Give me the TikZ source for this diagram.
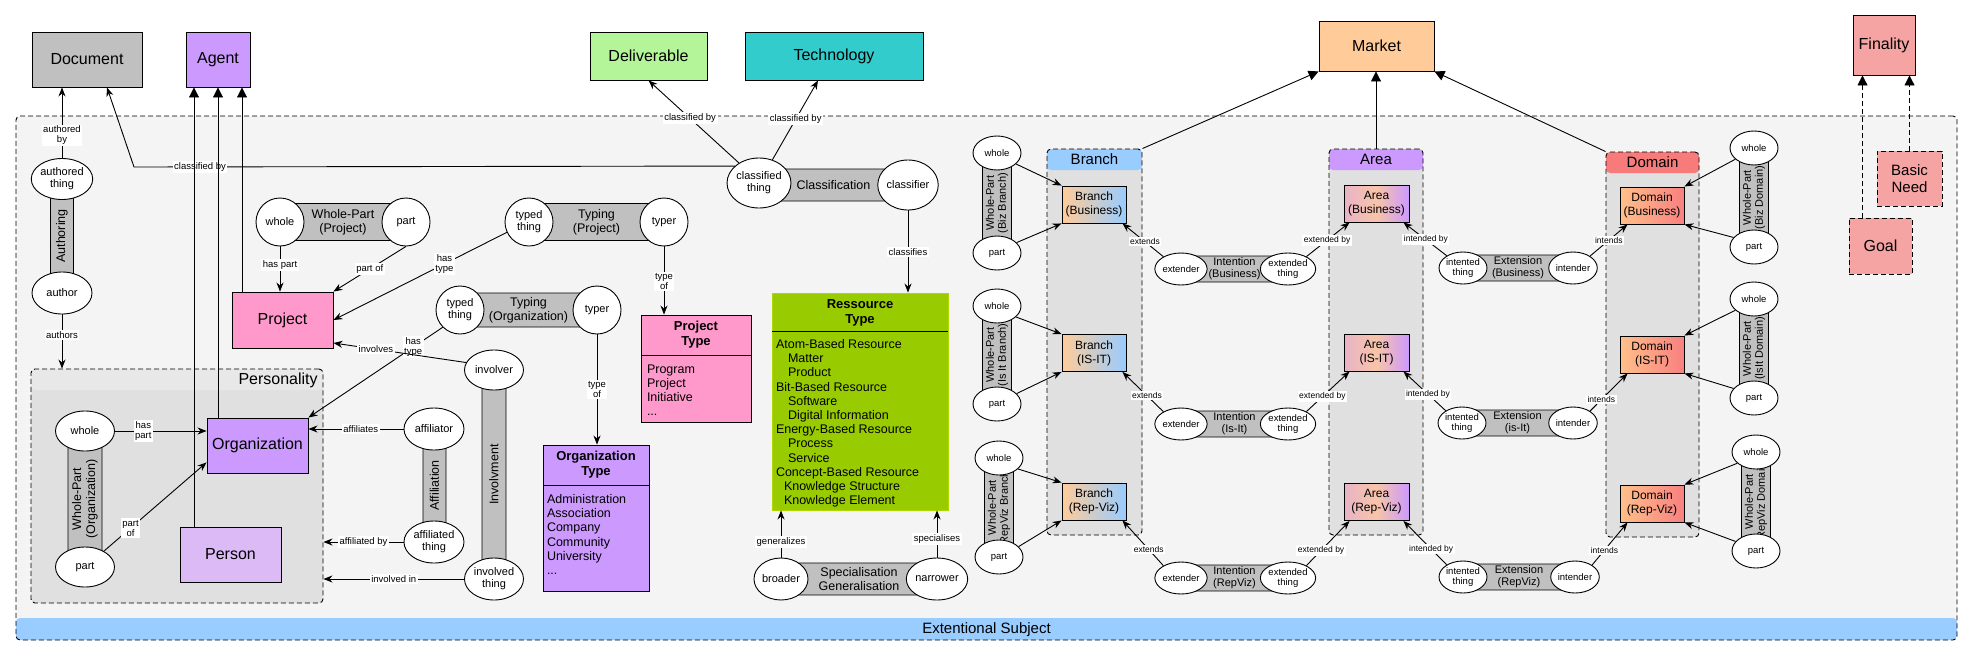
\documentclass[tikz,border=0pt]{standalone}
\usepackage{fontspec}
\setmainfont{Liberation Sans}
\usepackage{tikz}
\usetikzlibrary{arrows.meta,shapes.geometric}

\definecolor{docgray}{HTML}{C0C0C0}
\definecolor{agentpurple}{HTML}{CC99FF}
\definecolor{delivgreen}{HTML}{B5F59A}
\definecolor{techcyan}{HTML}{33CCCC}
\definecolor{marketorange}{HTML}{FFCC99}
\definecolor{finalpink}{HTML}{F6A3A3}
\definecolor{projpink}{HTML}{FF99CC}
\definecolor{personlilac}{HTML}{DCBAF6}
\definecolor{rtypegreen}{HTML}{99CC00}
\definecolor{rtypeedge}{HTML}{B0D800}
\definecolor{bargray}{HTML}{C0C0C0}
\definecolor{framegray}{HTML}{F4F4F4}
\definecolor{boxgray}{HTML}{E0E0E0}
\definecolor{hdrgray}{HTML}{E8E8E8}
\definecolor{bandblue}{HTML}{99CCFF}
\definecolor{domainred}{HTML}{F77B7B}
\definecolor{areapink}{HTML}{E8B4C8}
\definecolor{areapeach}{HTML}{F8C4A8}
\definecolor{domorange}{HTML}{FFC08A}
\definecolor{domsalmon}{HTML}{F88080}

\newcommand{\linew}{0.9pt}
\newcommand{\conceptsize}{\fontsize{16}{18}\selectfont}
\newcommand{\needsize}{\fontsize{15}{17}\selectfont}
\newcommand{\subsize}{\fontsize{12}{14}\selectfont}
\newcommand{\headsize}{\fontsize{13}{15}\selectfont\bfseries}
\newcommand{\listsize}{\fontsize{12.5}{14.2}\selectfont}
\newcommand{\rolesize}{\fontsize{11}{12}\selectfont}
\newcommand{\srolesize}{\fontsize{9.5}{10.5}\selectfont}
\newcommand{\barsize}{\fontsize{12.5}{14}\selectfont}
\newcommand{\sbarsize}{\fontsize{11}{12}\selectfont}
\newcommand{\lblsize}{\fontsize{9.5}{10}\selectfont}
\newcommand{\slblsize}{\fontsize{8.5}{9}\selectfont}

\begin{document}
\begin{tikzpicture}[x=1pt,y=-1pt,line width=\linew]
\tikzset{
  concept/.style={draw, rectangle, inner sep=0pt, align=center, font=\conceptsize},
  subconcept/.style={concept, font=\subsize, minimum width=64pt, minimum height=37pt},
  role/.style={draw, ellipse, fill=white, inner sep=0pt, align=center, font=\rolesize},
  srole/.style={role, font=\srolesize, minimum width=48pt, minimum height=32pt},
  relbar/.style={draw, fill=bargray, rounded corners=3pt, inner sep=0pt, align=center, font=\barsize},
  srelbar/.style={relbar, font=\sbarsize},
  lbl/.style={fill=white, inner sep=1.5pt, align=center, font=\lblsize},
  slbl/.style={lbl, font=\slblsize},
  list/.style={inner sep=0pt, align=left, font=\listsize},
  dashbox/.style={dash pattern=on 5pt off 3pt},
  container/.style={draw, dashbox, rounded corners=4pt, inner sep=0pt},
  header/.style={path picture={\fill[#1] (path picture bounding box.north west) rectangle ([yshift=-21pt]path picture bounding box.north east);}},
  band/.style={path picture={\fill[#1] ([yshift=22pt]path picture bounding box.south west) rectangle (path picture bounding box.south east);}},
  rel/.style={-{Stealth[length=9pt,width=7pt]}},
  gen/.style={-{Triangle[length=10pt,width=10pt]}}
}
\useasboundingbox (0,0) rectangle (1973,656);
%\draw[help lines] (0,0) grid (1973,656);

% frame and containers
\node[container, fill=framegray, band=bandblue, minimum width=1941pt, minimum height=524pt] (extsubj) at (986.5,378) {};
\node[font=\needsize] (extsubjttl) at ([yshift=11pt]extsubj.south) {Extentional Subject};
\node[container, fill=boxgray, header=hdrgray, minimum width=292pt, minimum height=234pt] (pers) at (177,486) {};
\node[font=\conceptsize, anchor=east] (persttl) at ([xshift=-2pt,yshift=-12pt]pers.north east) {Personality};
\node[container, fill=boxgray, header=bandblue, minimum width=95pt, minimum height=386pt] (branch) at (1094.5,342) {};
\node[font=\needsize] (branchttl) at ([yshift=-11pt]branch.north) {Branch};
\node[container, fill=boxgray, header=agentpurple, minimum width=94pt, minimum height=386pt] (area) at (1376,342) {};
\node[font=\needsize] (areattl) at ([yshift=-11pt]area.north) {Area};
\node[container, fill=boxgray, header=domainred, minimum width=93pt, minimum height=385pt] (domain) at (1652.5,344.5) {};
\node[font=\needsize] (domainttl) at ([yshift=-11pt]domain.north) {Domain};

% top concepts
\node[concept, fill=docgray, minimum width=110pt, minimum height=55pt] (doc) at (87,59.5) {Document};
\node[concept, fill=agentpurple, minimum width=64pt, minimum height=55pt] (agent) at (218,59.5) {Agent};
\node[concept, fill=delivgreen, minimum width=117pt, minimum height=48pt] (deliv) at (648.5,56) {Deliverable};
\node[concept, fill=techcyan, minimum width=178pt, minimum height=48pt] (tech) at (834,56) {Technology};
\node[concept, fill=marketorange, minimum width=115pt, minimum height=50pt] (market) at (1376.5,46) {Market};
\node[concept, fill=finalpink, minimum width=62pt, minimum height=60pt] (final) at (1884,45) {Finality};
\node[concept, fill=finalpink, dashbox, font=\needsize, minimum width=65pt, minimum height=55pt] (bneed) at (1909.5,178.5) {Basic\\Need};
\node[concept, fill=finalpink, dashbox, minimum width=63pt, minimum height=56pt] (goal) at (1880.5,246) {Goal};

% left concepts
\node[concept, fill=projpink, minimum width=101pt, minimum height=56pt] (project) at (282.5,320) {Project};
\node[concept, fill=agentpurple, minimum width=101pt, minimum height=55pt] (org) at (257.5,445.5) {Organization};
\node[concept, fill=personlilac, minimum width=101pt, minimum height=55pt] (person) at (230.5,554.5) {Person};

\node[concept, fill=projpink, minimum width=110pt, minimum height=107pt] (ptype) at (696,368.5) {};
\node[font=\headsize, align=center] (ptypettl) at ([yshift=-20.5pt]ptype.north) {Project\\Type};
\draw ([yshift=-41pt]ptype.north west) -- ([yshift=-41pt]ptype.north east);
\node[list, anchor=north west] (ptypelist) at ([xshift=6pt,yshift=-49.5pt]ptype.north west) {Program\\Project\\Initiative\\...};

\node[concept, fill=agentpurple, minimum width=106pt, minimum height=146pt] (otype) at (596,518) {};
\node[font=\headsize, align=center] (otypettl) at ([yshift=-20.5pt]otype.north) {Organization\\Type};
\draw ([yshift=-41pt]otype.north west) -- ([yshift=-41pt]otype.north east);
\node[list, anchor=north west] (otypelist) at ([xshift=4pt,yshift=-49.5pt]otype.north west) {Administration\\Association\\Company\\Community\\University\\...};

\node[concept, fill=rtypegreen, draw=rtypeedge, minimum width=176pt, minimum height=217pt] (rtype) at (860,401.5) {};
\node[font=\headsize, align=center] (rtypettl) at ([yshift=-20.5pt]rtype.north) {Ressource\\Type};
\draw ([yshift=-39pt]rtype.north west) -- ([yshift=-39pt]rtype.north east);
\node[list, anchor=north west] (rtypelist) at ([xshift=4pt,yshift=-46.5pt]rtype.north west) {Atom-Based Resource\\\hspace*{12pt}Matter\\\hspace*{12pt}Product\\Bit-Based Resource\\\hspace*{12pt}Software\\\hspace*{12pt}Digital Information\\Energy-Based Resource\\\hspace*{12pt}Process\\\hspace*{12pt}Service\\Concept-Based Resource\\\hspace*{8pt}Knowledge Structure\\\hspace*{8pt}Knowledge Element};

% relation bars
\node[relbar, rotate=90, minimum width=114pt, minimum height=23pt] (authbar) at (62,236) {Authoring};
\node[relbar, rotate=90, minimum width=136pt, minimum height=34pt] (wpobar) at (85,499) {Whole-Part\\(Organization)};
\node[relbar, minimum width=126pt, minimum height=37pt] (wppbar) at (343,222) {Whole-Part\\(Project)};
\node[relbar, minimum width=135pt, minimum height=37pt] (typpbar) at (596.5,222) {Typing\\(Project)};
\node[relbar, minimum width=137pt, minimum height=34pt] (typobar) at (528.5,310) {Typing\\(Organization)};
\node[relbar, rotate=90, minimum width=209pt, minimum height=24pt] (invbar) at (494,474.5) {Involvment};
\node[relbar, rotate=90, minimum width=113pt, minimum height=23pt] (affbar) at (434.5,485.5) {Affiliation};
\node[relbar, minimum width=149pt, minimum height=32pt] (clsbar) at (833.5,185) {Classification};
\node[relbar, minimum width=156pt, minimum height=32pt] (specbar) at (859,579) {Specialisation\\Generalisation};

% roles
\node[role, minimum width=60pt, minimum height=41pt] (auththing) at (62,179) {authored\\thing};
\node[role, minimum width=60pt, minimum height=42pt] (author) at (62,293) {author};
\node[role, minimum width=59pt, minimum height=40pt] (wholeo) at (85,431) {whole};
\node[role, minimum width=59pt, minimum height=40pt] (parto) at (85,567) {part};
\node[role, minimum width=48pt, minimum height=48pt] (wholep) at (280,222) {whole};
\node[role, minimum width=48pt, minimum height=48pt] (partp) at (406,222) {part};
\node[role, minimum width=48pt, minimum height=48pt] (tthingp) at (529,222) {typed\\thing};
\node[role, minimum width=48pt, minimum height=48pt] (typerp) at (664,222) {typer};
\node[role, minimum width=48pt, minimum height=48pt] (tthingo) at (460,310) {typed\\thing};
\node[role, minimum width=48pt, minimum height=48pt] (typero) at (597,310) {typer};
\node[role, minimum width=59pt, minimum height=40pt] (involver) at (494,370) {involver};
\node[role, minimum width=59pt, minimum height=42pt] (invthing) at (494,579) {involved\\thing};
\node[role, minimum width=60pt, minimum height=42pt] (affl) at (434,429) {affiliator};
\node[role, minimum width=60pt, minimum height=42pt] (afft) at (434,542) {affiliated\\thing};
\node[role, minimum width=60pt, minimum height=50pt] (clsthing) at (759,183) {classified\\thing};
\node[role, minimum width=60pt, minimum height=50pt] (clsfr) at (908,185) {classifier};
\node[role, minimum width=54pt, minimum height=42pt] (broader) at (781,579) {broader};
\node[role, minimum width=54pt, minimum height=42pt] (narrower) at (937,579) {narrower};

% branch / area / domain
\node[subconcept, left color=marketorange, right color=bandblue] (bb1) at (1094,204.5) {Branch\\(Business)};
\node[subconcept, left color=marketorange, right color=bandblue] (bb2) at (1094,353) {Branch\\(IS-IT)};
\node[subconcept, left color=marketorange, right color=bandblue] (bb3) at (1094,501.5) {Branch\\(Rep-Viz)};
\node[subconcept, minimum width=65pt, left color=areapink, right color=agentpurple, middle color=areapeach] (ab1) at (1376.5,203.5) {Area\\(Business)};
\node[subconcept, minimum width=65pt, left color=areapink, right color=agentpurple, middle color=areapeach] (ab2) at (1376.5,352.5) {Area\\(IS-IT)};
\node[subconcept, minimum width=65pt, left color=areapink, right color=agentpurple, middle color=areapeach] (ab3) at (1376.5,502) {Area\\(Rep-Viz)};
\node[subconcept, left color=domorange, right color=domsalmon] (db1) at (1652,205.5) {Domain\\(Business)};
\node[subconcept, left color=domorange, right color=domsalmon] (db2) at (1652,354.5) {Domain\\(IS-IT)};
\node[subconcept, left color=domorange, right color=domsalmon] (db3) at (1652,503.5) {Domain\\(Rep-Viz)};

\node[srelbar, rotate=90, minimum width=100pt, minimum height=29pt] (wpb1) at (997,203) {Whole-Part\\(Biz Branch)};
\node[srelbar, rotate=90, minimum width=98pt, minimum height=29pt] (wpb2) at (997,355) {Whole-Part\\(Is It Branch)};
\node[srelbar, rotate=90, minimum width=99pt, minimum height=29pt] (wpb3) at (999,507.5) {Whole-Part\\(RepViz Branch)};
\node[srole, minimum height=34pt] (wb1) at (997,153) {whole};
\node[srole, minimum height=34pt] (pb1) at (997,253) {part};
\node[srole, minimum height=34pt] (wb2) at (997,306) {whole};
\node[srole, minimum height=34pt] (pb2) at (997,404) {part};
\node[srole, minimum height=34pt] (wb3) at (999,458) {whole};
\node[srole, minimum height=34pt] (pb3) at (999,557) {part};

\node[srelbar, minimum width=107pt, minimum height=26pt] (intn1) at (1234.5,269) {Intention\\(Business)};
\node[srelbar, minimum width=107pt, minimum height=26pt] (intn2) at (1234.5,424) {Intention\\(Is-It)};
\node[srelbar, minimum width=107pt, minimum height=26pt] (intn3) at (1234.5,578) {Intention\\(RepViz)};
\node[srole] (extr1) at (1181,269) {extender};
\node[srole] (extd1) at (1288,269) {extended\\thing};
\node[srole] (extr2) at (1181,424) {extender};
\node[srole] (extd2) at (1288,424) {extended\\thing};
\node[srole] (extr3) at (1181,578) {extender};
\node[srole] (extd3) at (1288,578) {extended\\thing};

\node[srelbar, minimum width=110pt, minimum height=26pt] (extn1) at (1518,268) {Extension\\(Business)};
\node[srelbar, minimum width=111pt, minimum height=26pt] (extn2) at (1517.5,423) {Extension\\(is-It)};
\node[srelbar, minimum width=112pt, minimum height=26pt] (extn3) at (1519,577) {Extension\\(RepViz)};
\node[srole] (intd1) at (1463,268) {intented\\thing};
\node[srole] (intr1) at (1573,268) {intender};
\node[srole] (intd2) at (1462,423) {intented\\thing};
\node[srole] (intr2) at (1573,423) {intender};
\node[srole] (intd3) at (1463,577) {intented\\thing};
\node[srole] (intr3) at (1575,577) {intender};

\node[srelbar, rotate=90, minimum width=99pt, minimum height=29pt] (wpd1) at (1754,197.5) {Whole-Part\\(Biz Domain)};
\node[srelbar, rotate=90, minimum width=99pt, minimum height=29pt] (wpd2) at (1754,348.5) {Whole-Part\\(IsIt Domain)};
\node[srelbar, rotate=90, minimum width=99pt, minimum height=29pt] (wpd3) at (1756,501.5) {Whole-Part\\(RepViz Domain)};
\node[srole, minimum height=34pt] (wd1) at (1754,148) {whole};
\node[srole, minimum height=34pt] (pd1) at (1754,247) {part};
\node[srole, minimum height=34pt] (wd2) at (1754,299) {whole};
\node[srole, minimum height=34pt] (pd2) at (1754,398) {part};
\node[srole, minimum height=34pt] (wd3) at (1756,452) {whole};
\node[srole, minimum height=34pt] (pd3) at (1756,551) {part};

% connectors
\coordinate (docbend) at (134,167);
\coordinate (agentl) at ([xshift=-24pt]agent.south);
\coordinate (agentr) at ([xshift=24pt]agent.south);

\draw[rel] (auththing.north) -- node[lbl,pos=0.32]{authored\\by} (auththing.north |- doc.south);
\draw[rel] (author.south) -- node[lbl,pos=0.38]{authors} (author.south |- pers.north);
\draw[rel] (clsthing.145) -- node[lbl,pos=0.89]{classified by} (docbend) -- ([xshift=20pt]doc.south);

\draw[gen] (person.north -| agentl) -- (agentl);
\draw[gen] (org.north -| agent.south) -- (agent.south);
\draw[gen] (project.north -| agentr) -- (agentr);

\draw[rel] (wholeo.east) -- node[lbl,pos=0.31]{has\\part} (wholeo.east -| org.west);
\draw[rel] (parto.40) -- node[lbl,pos=0.26]{part\\of} ([yshift=11pt]org.south west);

\draw[rel] (wholep.south) -- node[lbl,pos=0.41]{has part} (wholep.south |- project.north);
\draw[rel] (partp.south) -- node[lbl,pos=0.5]{part of} (project.north east);
\draw[rel] (tthingp.205) -- node[lbl,pos=0.36]{has\\type} (project.east);
\draw[rel] (typerp.south) -- node[lbl,pos=0.52]{type\\of} (typerp.south |- ptype.north);
\draw[rel] (tthingo.225) -- node[lbl,pos=0.22]{has\\type} (org.north east);
\draw[rel] (typero.south) -- node[lbl,pos=0.5]{type\\of} (typero.south |- otype.north);
\draw[rel] (involver.165) -- node[lbl,pos=0.68]{involves} ([yshift=-23pt]project.east);
\draw[rel] (affl.west) -- node[lbl,pos=0.45]{affiliates} (affl.west -| org.east);
\draw[rel] (afft.west) -- node[lbl,pos=0.5]{affiliated by} (afft.west -| pers.east);
\draw[rel] (invthing.west) -- node[lbl,pos=0.5]{involved in} (invthing.west -| pers.east);

\draw[rel] (clsthing.135) -- node[lbl,pos=0.54]{classified by} (deliv.south);
\draw[rel] (clsthing.60) -- node[lbl,pos=0.51]{classified by} ([xshift=-16pt]tech.south);
\draw[rel] (clsfr.south) -- node[lbl,pos=0.51]{classifies} (clsfr.south |- rtype.north);
\draw[rel] (broader.north) -- node[lbl,pos=0.33]{generalizes} (broader.north |- rtype.south);
\draw[rel] (narrower.north) -- node[lbl,pos=0.4]{specialises} (narrower.north |- rtype.south);

\draw[rel] (wb1.-30) -- (bb1.north west);
\draw[rel] (pb1.28) -- (bb1.south west);
\draw[rel] (wb2.-30) -- (bb2.north west);
\draw[rel] (pb2.28) -- (bb2.south west);
\draw[rel] (wb3.-30) -- (bb3.north west);
\draw[rel] (pb3.28) -- (bb3.south west);

\draw[rel] (extr1.145) -- node[slbl,pos=0.45]{extends} ([xshift=-4pt]bb1.south east);
\draw[rel] (extr2.145) -- node[slbl,pos=0.4]{extends} ([xshift=-4pt]bb2.south east);
\draw[rel] (extr3.145) -- node[slbl,pos=0.36]{extends} ([xshift=-4pt]bb3.south east);
\draw[rel] (extd1.34) -- node[slbl,pos=0.48]{extended by} ([xshift=6pt]ab1.south west);
\draw[rel] (extd2.34) -- node[slbl,pos=0.37]{extended by} ([xshift=6pt]ab2.south west);
\draw[rel] (extd3.34) -- node[slbl,pos=0.34]{extended by} ([xshift=6pt]ab3.south west);
\draw[rel] (intd1.143) -- node[slbl,pos=0.48]{intended by} ([xshift=-6pt]ab1.south east);
\draw[rel] (intd2.143) -- node[slbl,pos=0.42]{intended by} ([xshift=-6pt]ab2.south east);
\draw[rel] (intd3.143) -- node[slbl,pos=0.36]{intended by} ([xshift=-6pt]ab3.south east);
\draw[rel] (intr1.35) -- node[slbl,pos=0.5]{intends} ([xshift=8pt]db1.south west);
\draw[rel] (intr2.35) -- node[slbl,pos=0.3]{intends} ([xshift=8pt]db2.south west);
\draw[rel] (intr3.35) -- node[slbl,pos=0.35]{intends} ([xshift=8pt]db3.south west);

\draw[rel] (wd1.-149) -- (db1.north east);
\draw[rel] (pd1.155) -- (db1.south east);
\draw[rel] (wd2.-149) -- (db2.north east);
\draw[rel] (pd2.155) -- (db2.south east);
\draw[rel] (wd3.-149) -- (db3.north east);
\draw[rel] (pd3.155) -- (db3.south east);

\draw[gen] (branch.north east) -- (market.south west);
\draw[gen] (area.north) -- (area.north |- market.south);
\draw[gen] (domain.north west) -- (market.south east);

\draw[gen, dashbox] ([xshift=-18pt]goal.north) -- ([xshift=-18pt]goal.north |- final.south);
\draw[gen, dashbox] (bneed.north) -- (bneed.north |- final.south);
\end{tikzpicture}
\end{document}
